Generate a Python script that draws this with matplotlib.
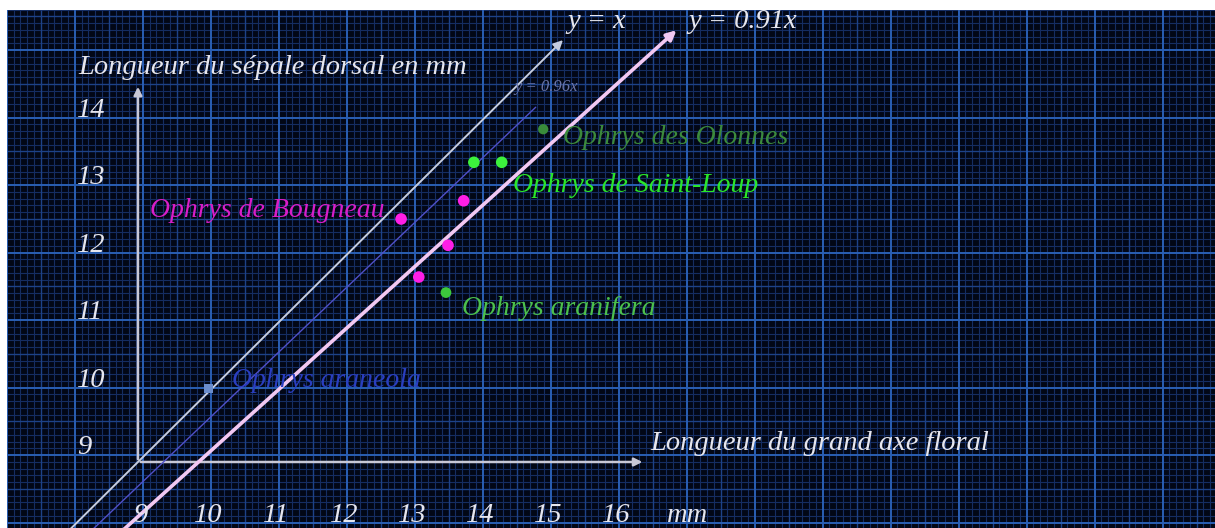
import numpy as np
import matplotlib.pyplot as plt

# graduations des axes
x_ticks = [9, 10, 11, 12, 13, 14, 15, 16]
y_ticks = [9, 10, 11, 12, 13, 14]

# droites de reference y = k x
slopes = [1.0, 0.96, 0.91]
slope_labels = ['y = x', 'y = 0.96x', 'y = 0.91x']

# mesures (grand axe floral, sepale dorsal) en mm
bougneau_x = [12.87, 13.79, 13.56, 13.13]
bougneau_y = [12.60, 12.87, 12.21, 11.74]
saint_loup_x = [13.94, 14.35]
saint_loup_y = [13.44, 13.44]
aranifera_x = [13.53]
aranifera_y = [11.51]
olonnes_x = [14.96]
olonnes_y = [13.93]
araneola_x = [10.04]
araneola_y = [10.09]

plt.rcParams['font.family'] = ['Liberation Serif', 'DejaVu Serif']
plt.rcParams['font.style'] = 'italic'

fig = plt.figure(figsize=(12.15, 5.28), dpi=100, facecolor='white')
ax = fig.add_axes([7 / 1215, 0, 1208 / 1215, 518 / 528])
ax.set_facecolor('#020716')
ax.set_xlim(7.074, 24.84)
ax.set_ylim(8.022, 15.696)
for s in ax.spines.values():
    s.set_visible(False)
ax.set_xticks([])
ax.set_yticks([])

# papier millimetre
k = np.arange(-25, 180)
gx = 9.07 + k * 0.1
kk = np.arange(-15, 80)
gy = 9.10 + kk * 0.1
lo, hi = ax.get_ylim()
le, ri = ax.get_xlim()
ax.vlines(gx[k % 5 != 0], lo, hi, colors='#152d62', lw=0.8, zorder=0)
ax.hlines(gy[kk % 5 != 0], le, ri, colors='#152d62', lw=0.8, zorder=0)
ax.vlines(gx[(k % 5 == 0) & (k % 10 != 0)], lo, hi, colors='#1d4288', lw=1.0, zorder=0)
ax.hlines(gy[(kk % 5 == 0) & (kk % 10 != 0)], le, ri, colors='#1d4288', lw=1.0, zorder=0)
ax.vlines(gx[k % 10 == 0], lo, hi, colors='#2a5fb4', lw=1.4, zorder=0)
ax.hlines(gy[kk % 10 == 0], le, ri, colors='#2a5fb4', lw=1.4, zorder=0)

txt = '#e6e6ee'
fs = 20.5

# axes dessines
ax.annotate('', xy=(9, 14.6), xytext=(9, 9),
            arrowprops=dict(arrowstyle='-|>', color='#c8c8d6', lw=1.8, mutation_scale=12), zorder=2)
ax.annotate('', xy=(16.46, 9), xytext=(9, 9),
            arrowprops=dict(arrowstyle='-|>', color='#c8c8d6', lw=1.8, mutation_scale=12), zorder=2)

for v in y_ticks:
    ax.text(8.10, v + 0.21, str(v), color=txt, fontsize=fs, va='center', ha='left')
for v in x_ticks:
    ax.text(v + 0.03, 8.21, str(v), color=txt, fontsize=fs, va='center', ha='center')
ax.text(17.09, 8.21, 'mm', color=txt, fontsize=fs, va='center', ha='center')

ax.text(8.12, 14.85, 'Longueur du sépale dorsal en mm', color=txt, fontsize=fs, va='center')
ax.text(16.54, 9.28, 'Longueur du grand axe floral', color=txt, fontsize=fs, va='center')

# droites
ends = [15.25, 14.85, 16.92]
colors = ['#c6cde0', '#5050c8', '#f2c8f2']
widths = [1.4, 1.0, 2.6]
heads = ['-|>', '-', '-|>']
for sl, x1, c, w, h in zip(slopes, ends, colors, widths, heads):
    ax.annotate('', xy=(x1, sl * x1), xytext=(7.9, sl * 7.9),
                arrowprops=dict(arrowstyle=h, color=c, lw=w, mutation_scale=14,
                                shrinkA=0, shrinkB=0), zorder=2)

ax.text(15.32, 15.52, slope_labels[0], color=txt, fontsize=fs, va='center')
ax.text(14.54, 14.56, slope_labels[1], color='#6a74a8', fontsize=12, va='center')
ax.text(17.09, 15.52, slope_labels[2], color=txt, fontsize=fs, va='center')

# points
ax.scatter(bougneau_x, bougneau_y, s=70, color='#ff1ee6', zorder=3, edgecolors='none')
ax.scatter(saint_loup_x, saint_loup_y, s=70, color='#3cf03c', zorder=3, edgecolors='none')
ax.scatter(aranifera_x, aranifera_y, s=60, color='#3cc83c', zorder=3, edgecolors='none')
ax.scatter(olonnes_x, olonnes_y, s=55, color='#3a8c3a', zorder=3, edgecolors='none')
ax.scatter(araneola_x, araneola_y, s=40, color='#6a8ccc', marker='s', zorder=3, edgecolors='none')

ax.text(15.25, 13.80, 'Ophrys des Olonnes', color='#3c8a3c', fontsize=20, va='center')
ax.text(14.51, 13.09, 'Ophrys de Saint-Loup', color='#2ae62a', fontsize=20, va='center')
ax.text(9.18, 12.72, 'Ophrys de Bougneau', color='#d81ec8', fontsize=20, va='center')
ax.text(13.76, 11.28, 'Ophrys aranifera', color='#4cc04c', fontsize=20, va='center')
ax.text(10.38, 10.21, 'Ophrys araneola', color='#2a3ec0', fontsize=20, va='center')

fig.savefig('out.png', dpi=100, facecolor='white')
